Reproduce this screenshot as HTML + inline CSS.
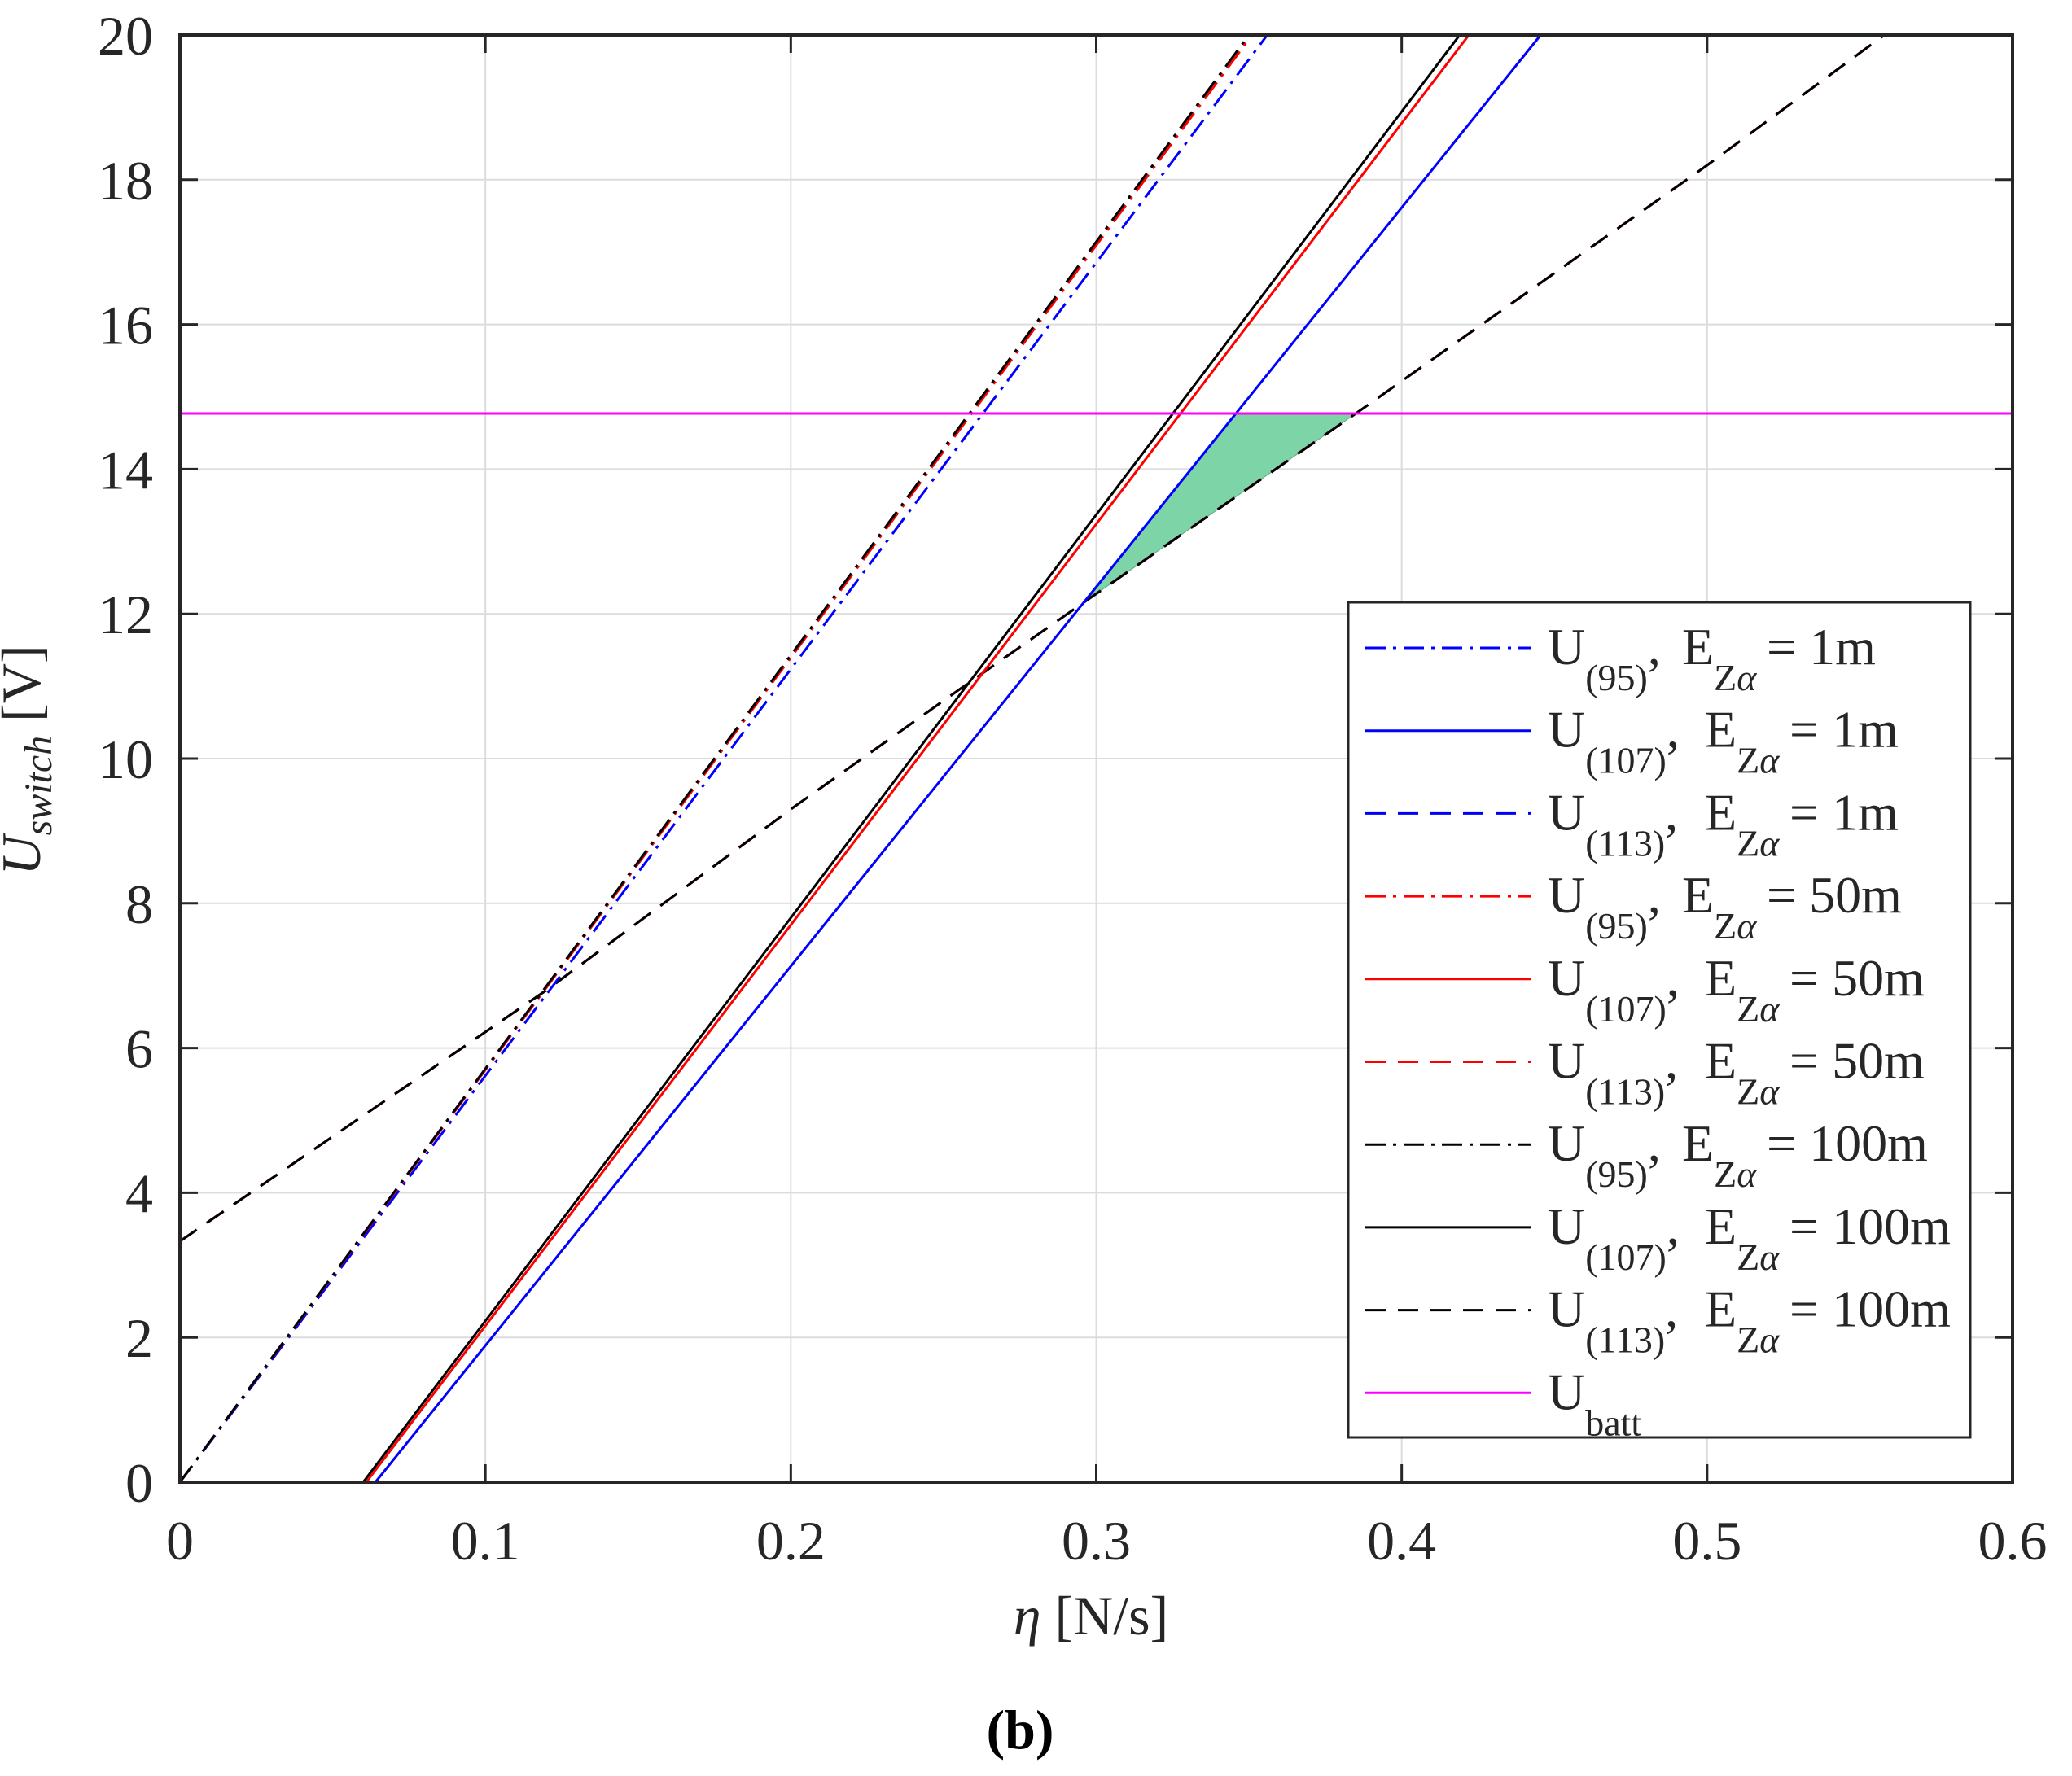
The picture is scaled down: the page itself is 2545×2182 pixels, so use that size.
<!DOCTYPE html>
<html><head><meta charset="utf-8">
<style>
html,body{margin:0;padding:0;background:#fff;}
svg{display:block;font-family:"Liberation Serif",serif;}
</style></head>
<body>
<svg id="chart" width="2545" height="2182" viewBox="0 0 2545 2182" xmlns="http://www.w3.org/2000/svg">
<rect x="0" y="0" width="2545" height="2182" fill="#fff"/>
<g id="grid"></g>
<g id="fillg"></g>
<g id="series"></g>
<g id="axes"></g>
<g id="legend"></g>
<text x="49" y="934" font-size="68" font-style="italic" text-anchor="middle" transform="rotate(-90 49 934)" fill="#262626">U<tspan font-size="48" dy="14">switch</tspan><tspan dy="-14" font-style="normal">  [V]</tspan></text>
<text x="1340" y="2008" font-size="68" text-anchor="middle" fill="#262626"><tspan font-style="italic">η</tspan> [N/s]</text>
<text x="1253" y="2148" font-size="68" font-weight="bold" text-anchor="middle" fill="#000">(b)</text>
</svg>
<script>
const xTicks = [0, 0.1, 0.2, 0.3, 0.4, 0.5, 0.6];
const xTickLabels = ["0", "0.1", "0.2", "0.3", "0.4", "0.5", "0.6"];
const yTicks = [0, 2, 4, 6, 8, 10, 12, 14, 16, 18, 20];
const yTickLabels = ["0", "2", "4", "6", "8", "10", "12", "14", "16", "18", "20"];

const u95_1m_x = [0, 0.356];      const u95_1m_y = [0, 20];
const u107_1m_x = [0.064, 0.4455]; const u107_1m_y = [0, 20];
const u113_1m_x = [0, 0.12, 0.2, 0.255, 0.297, 0.385, 0.5, 0.558]; const u113_1m_y = [3.33, 6.8, 9.3, 10.95, 12.19, 14.77, 18.2, 20];
const u95_50m_x = [0, 0.351];     const u95_50m_y = [0, 20];
const u107_50m_x = [0.061, 0.422]; const u107_50m_y = [0, 20];
const u113_50m_x = [0, 0.12, 0.2, 0.255, 0.297, 0.385, 0.5, 0.558]; const u113_50m_y = [3.33, 6.8, 9.3, 10.95, 12.19, 14.77, 18.2, 20];
const u95_100m_x = [0, 0.35];     const u95_100m_y = [0, 20];
const u107_100m_x = [0.06, 0.419]; const u107_100m_y = [0, 20];
const u113_100m_x = [0, 0.12, 0.2, 0.255, 0.297, 0.385, 0.5, 0.558]; const u113_100m_y = [3.33, 6.8, 9.3, 10.95, 12.19, 14.77, 18.2, 20];
const ubatt_x = [0, 0.6]; const ubatt_y = [14.77, 14.77];
const region_x = [0.297, 0.3455, 0.385]; const region_y = [12.19, 14.77, 14.77];

const L = 221, R = 2472, T = 43, B = 1821;
const X = v => L + (v - 0) / 0.6 * (R - L);
const Y = v => B - (v - 0) / 20 * (B - T);
const NS = "http://www.w3.org/2000/svg";
function mk(tag, attrs, parent) {
  const e = document.createElementNS(NS, tag);
  for (const k in attrs) e.setAttribute(k, attrs[k]);
  parent.appendChild(e);
  return e;
}
const grid = document.getElementById('grid');
const axes = document.getElementById('axes');
xTicks.forEach((t, i) => {
  const g = mk('line', {x1: X(t), x2: X(t), y1: T, y2: B, stroke: '#dcdcdc', 'stroke-width': 2}, grid);
  
  
  const tk = mk('line', {x1: X(t), x2: X(t), y1: B, y2: B - 22, stroke: '#262626', 'stroke-width': 3}, axes);
  
  
  const tk2 = mk('line', {x1: X(t), x2: X(t), y1: T, y2: T + 22, stroke: '#262626', 'stroke-width': 3}, axes);
  
  
  const tx = mk('text', {x: X(t), y: B + 95, 'font-size': 68, 'text-anchor': 'middle', fill: '#262626'}, axes);
  tx.textContent = xTickLabels[i];
  
  
});
yTicks.forEach((t, i) => {
  const g = mk('line', {x1: L, x2: R, y1: Y(t), y2: Y(t), stroke: '#dcdcdc', 'stroke-width': 2}, grid);
  
  
  const tk = mk('line', {x1: L, x2: L + 22, y1: Y(t), y2: Y(t), stroke: '#262626', 'stroke-width': 3}, axes);
  
  
  const tk2 = mk('line', {x1: R, x2: R - 22, y1: Y(t), y2: Y(t), stroke: '#262626', 'stroke-width': 3}, axes);
  
  
  const tx = mk('text', {x: 188, y: Y(t) + 24, 'font-size': 68, 'text-anchor': 'end', fill: '#262626'}, axes);
  tx.textContent = yTickLabels[i];
  
  
});
const frame = mk('rect', {x: L, y: T, width: R - L, height: B - T, fill: 'none', stroke: '#262626', 'stroke-width': 4}, axes);



const fillg = document.getElementById('fillg');
const poly = mk('polygon', {points: region_x.map((v, i) => X(v) + ',' + Y(region_y[i])).join(' '), fill: '#7dd4a6', stroke: '#5aa884', 'stroke-width': 1}, fillg);



const DASH = '25 15', DOT = '25 9 4 9';
const seriesDefs = [
  ['u113-1m', u113_1m_x, u113_1m_y, '#0000ff', DASH],
  ['u113-50m', u113_50m_x, u113_50m_y, '#ff0000', DASH],
  ['u113-100m', u113_100m_x, u113_100m_y, '#000000', DASH],
  ['u95-1m', u95_1m_x, u95_1m_y, '#0000ff', DOT],
  ['u95-50m', u95_50m_x, u95_50m_y, '#ff0000', DOT],
  ['u95-100m', u95_100m_x, u95_100m_y, '#000000', DOT],
  ['u107-1m', u107_1m_x, u107_1m_y, '#0000ff', ''],
  ['u107-50m', u107_50m_x, u107_50m_y, '#ff0000', ''],
  ['u107-100m', u107_100m_x, u107_100m_y, '#000000', ''],
  ['u-batt', ubatt_x, ubatt_y, '#ff00ff', '']
];
const sg = document.getElementById('series');
seriesDefs.forEach(s => {
  const pts = s[1].map((v, i) => X(v) + ',' + Y(s[2][i])).join(' ');
  const a = {points: pts, fill: 'none', stroke: s[3], 'stroke-width': 3};
  if (s[4]) a['stroke-dasharray'] = s[4];
  const p = mk('polyline', a, sg);
  
  
});

// legend
const lg = document.getElementById('legend');
const box = mk('rect', {x: 1656, y: 740, width: 764, height: 1026, fill: '#fff', stroke: '#262626', 'stroke-width': 3}, lg);


const legItems = [
  ['#0000ff', DOT, '(95)', '1m'], ['#0000ff', '', '(107)', '1m'], ['#0000ff', DASH, '(113)', '1m'],
  ['#ff0000', DOT, '(95)', '50m'], ['#ff0000', '', '(107)', '50m'], ['#ff0000', DASH, '(113)', '50m'],
  ['#000000', DOT, '(95)', '100m'], ['#000000', '', '(107)', '100m'], ['#000000', DASH, '(113)', '100m'],
  ['#ff00ff', '', 'batt', null]
];
legItems.forEach((it, i) => {
  const y = 796 + i * 101.7;
  const g = mk('g', {}, lg);
  
  
  const a = {x1: 1677, x2: 1880, y1: y, y2: y, stroke: it[0], 'stroke-width': 3};
  if (it[1]) a['stroke-dasharray'] = it[1];
  mk('line', a, g);
  const t = mk('text', {x: 1901, y: y + 20, 'font-size': 64, fill: '#262626'}, g);
  if (it[3] === null) {
    t.innerHTML = 'U<tspan font-size="46" dy="32">batt</tspan>';
  } else {
    const wide = it[2].length > 4;
    const ex = wide ? 2094 : 2066;
    const eq = wide ? 2198 : 2170;
    t.innerHTML = 'U<tspan font-size="46" dy="32">' + it[2] + '</tspan><tspan dy="-32">,</tspan>' +
      '<tspan x="' + ex + '">E</tspan><tspan font-size="46" dy="32">Z<tspan font-style="italic">α</tspan></tspan>' +
      '<tspan dy="-32" x="' + eq + '">= ' + it[3] + '</tspan>';
  }
});
</script>
</body></html>
